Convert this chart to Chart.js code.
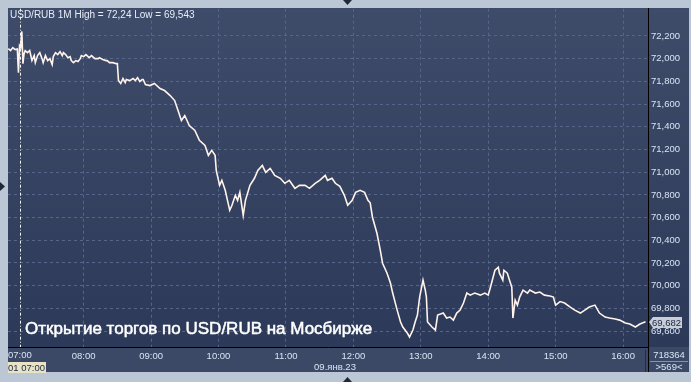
<!DOCTYPE html>
<html lang="ru">
<head>
<meta charset="UTF-8">
<title>USD/RUB 1M</title>
<style>
    * { margin: 0; padding: 0; box-sizing: border-box; }
    body { background: #bcc7d6; width: 691px; height: 382px; overflow: hidden; }
</style>
</head>
<body>
<canvas id="chart" width="691" height="382"></canvas>

<script src="https://cdn.jsdelivr.net/npm/chart.js"></script>
<script>
    // minutes after 07:00 (negative = before the open)
    const minutes = [
        -7, -5, -3, -1, 1, 2, 3, 4, 5, 6, 7, 8, 10, 12, 14, 16, 17, 19, 21, 23,
        24, 26, 28, 30, 32, 33, 35, 37, 39, 41, 42, 44, 46, 48, 49, 51, 53, 55, 57, 58,
        60, 62, 64, 65, 67, 70, 73, 74, 77, 80, 81, 83, 86, 89, 90, 91, 93, 95, 97, 98,
        101, 104, 106, 108, 110, 112, 113, 115, 119, 123, 128, 132, 137, 141, 144, 147, 150, 154, 159, 163,
        168, 171, 174, 177, 178, 181, 183, 186, 188, 190, 192, 195, 197, 199, 202, 204, 208, 212, 215, 219,
        222, 226, 230, 235, 239, 243, 248, 252, 257, 261, 266, 270, 275, 277, 281, 284, 288, 292, 295, 299,
        302, 306, 310, 313, 315, 317, 321, 324, 326, 330, 333, 335, 339, 342, 344, 348, 350, 353, 355, 357,
        359, 362, 364, 365, 366, 370, 373, 375, 380, 383, 386, 389, 392, 395, 398, 401, 404, 408, 413, 417,
        420, 422, 426, 429, 430, 433, 434, 437, 439, 441, 442, 444, 446, 448, 451, 455, 457, 462, 466, 470,
        475, 478, 480, 484, 488, 493, 497, 502, 506, 510, 515, 519, 524, 528, 533, 537, 542, 546, 551, 555,
        560
    ];
    const prices = [
        72.088, 72.071, 72.097, 72.080, 72.085, 71.877, 72.115, 72.100, 72.240, 71.956, 72.044, 72.071, 72.053, 72.071, 71.983, 72.027, 71.965, 72.027, 72.053, 72.000,
        71.965, 72.027, 71.983, 72.000, 71.948, 72.018, 72.053, 72.036, 72.062, 72.027, 72.053, 72.036, 72.009, 72.018, 71.983, 71.965, 71.983, 71.974, 72.000, 72.027,
        72.018, 72.036, 72.018, 72.009, 72.027, 72.000, 72.000, 72.009, 71.992, 71.983, 71.983, 71.965, 71.965, 71.956, 71.956, 71.807, 71.781, 71.825, 71.789, 71.816,
        71.807, 71.825, 71.807, 71.833, 71.798, 71.816, 71.816, 71.772, 71.763, 71.781, 71.737, 71.719, 71.675, 71.631, 71.543, 71.455, 71.499, 71.411, 71.367, 71.280,
        71.236, 71.148, 71.192, 71.148, 71.016, 70.884, 70.928, 70.840, 70.752, 70.664, 70.708, 70.796, 70.752, 70.822, 70.620, 70.752, 70.884, 70.946, 71.016, 71.060,
        70.998, 71.033, 70.972, 70.946, 70.902, 70.928, 70.858, 70.884, 70.884, 70.858, 70.902, 70.928, 70.972, 70.928, 70.946, 70.902, 70.875, 70.796, 70.708, 70.752,
        70.822, 70.840, 70.822, 70.752, 70.730, 70.603, 70.462, 70.312, 70.198, 70.110, 70.023, 69.935, 69.785, 69.680, 69.636, 69.583, 69.548, 69.609, 69.680, 69.741,
        69.900, 70.049, 69.961, 69.900, 69.680, 69.636, 69.609, 69.741, 69.759, 69.715, 69.724, 69.697, 69.759, 69.785, 69.847, 69.935, 69.917, 69.935, 69.917, 69.935,
        69.917, 69.987, 70.136, 70.162, 70.110, 70.049, 70.136, 70.110, 70.049, 69.987, 69.715, 69.873, 69.829, 69.900, 69.961, 69.935, 69.961, 69.935, 69.944, 69.917,
        69.909, 69.900, 69.829, 69.860, 69.847, 69.812, 69.785, 69.759, 69.785, 69.812, 69.829, 69.759, 69.724, 69.715, 69.706, 69.697, 69.671, 69.662, 69.636, 69.662,
        69.682
    ];
    const hourTicks = [0, 60, 120, 180, 240, 300, 360, 420, 480, 540];
    const hourLabels = ['07:00', '08:00', '09:00', '10:00', '11:00', '12:00', '13:00', '14:00', '15:00', '16:00'];
    const priceTicks = [69.6, 69.8, 70.0, 70.2, 70.4, 70.6, 70.8, 71.0, 71.2, 71.4, 71.6, 71.8, 72.0, 72.2];
    const lastPrice = 69.682;
    const openMarker = 3;
    const titleText = 'USD/RUB 1M High = 72,24 Low = 69,543';
    const captionText = 'Открытие торгов по USD/RUB на Мосбирже';
    const dateText = '09.янв.23';
    const cursorText = '01 07:00';
    const volumeText = '718364';
    const barsText = '>569<';

    const FONT = "'Liberation Sans', Arial, sans-serif";
    const labelColor = '#d9e4f4';
    const gridColor = '#56668a';
    const SMALL = '9.5px ' + FONT;

    const fmtPrice = v => v.toFixed(3).replace('.', ',');

    // background, frame and the extra labels around the chart
    const decor = {
        id: 'decor',
        beforeDraw(chart) {
            const ctx = chart.ctx;
            const a = chart.chartArea;
            ctx.save();
            ctx.fillStyle = '#bcc7d6';
            ctx.fillRect(0, 0, 691, 382);
            // axis panels
            ctx.fillStyle = '#3c4966';
            ctx.fillRect(8, 8, 681, 364);
            // plot + price panel gradient
            const g = ctx.createLinearGradient(0, a.top, 0, a.bottom);
            g.addColorStop(0, '#3e4c6a');
            g.addColorStop(1, '#2c3958');
            ctx.fillStyle = g;
            ctx.fillRect(8, a.top, 681, a.bottom - a.top);
            ctx.restore();
        },
        beforeDatasetsDraw(chart) {
            const ctx = chart.ctx;
            const a = chart.chartArea;
            const x = Math.round(chart.scales.x.getPixelForValue(openMarker)) + 0.5;
            ctx.save();
            ctx.strokeStyle = '#f4f4f4';
            ctx.lineWidth = 1;
            ctx.setLineDash([3, 2, 1, 2]);
            ctx.beginPath();
            ctx.moveTo(x, a.top);
            ctx.lineTo(x, a.bottom);
            ctx.stroke();
            ctx.restore();
        },
        afterDraw(chart) {
            const ctx = chart.ctx;
            const a = chart.chartArea;
            const ys = chart.scales.y;
            ctx.save();

            // title
            ctx.font = '10px ' + FONT;
            ctx.fillStyle = '#e6edf8';
            ctx.textBaseline = 'middle';
            ctx.textAlign = 'left';
            ctx.fillText(titleText, 10, 15);

            // caption
            ctx.font = '17px ' + FONT;
            ctx.fillStyle = '#ffffff';
            ctx.strokeStyle = '#ffffff';
            ctx.lineWidth = 0.5;
            ctx.textBaseline = 'alphabetic';
            ctx.fillText(captionText, 25, 334);
            ctx.strokeText(captionText, 25, 334);

            // first hour label, kept inside the frame
            ctx.font = SMALL;
            ctx.fillStyle = labelColor;
            ctx.textBaseline = 'middle';
            ctx.fillText(hourLabels[0], 8, 355);

            // cursor time box
            ctx.fillStyle = '#e8e3c4';
            ctx.fillRect(8, 362, 38, 11);
            ctx.fillStyle = '#1a2846';
            ctx.fillText(cursorText, 8, 368);

            // date
            ctx.fillStyle = labelColor;
            ctx.textAlign = 'center';
            ctx.fillText(dateText, 335, 367);

            // price panel extension and separators
            ctx.strokeStyle = '#000';
            ctx.lineWidth = 1;
            ctx.beginPath();
            ctx.moveTo(a.right + 0.5, a.bottom);
            ctx.lineTo(a.right + 0.5, 372);
            ctx.stroke();
            ctx.strokeStyle = '#222c42';
            ctx.beginPath();
            ctx.moveTo(645.5, 350);
            ctx.lineTo(645.5, 372);
            ctx.stroke();
            ctx.strokeStyle = '#8592aa';
            ctx.beginPath();
            ctx.moveTo(650, 361.5);
            ctx.lineTo(688, 361.5);
            ctx.stroke();

            ctx.fillStyle = labelColor;
            ctx.fillText(volumeText, 669, 355);
            ctx.fillText(barsText, 669, 367);

            // last price tag
            const py = Math.round(ys.getPixelForValue(lastPrice));
            ctx.fillStyle = '#c9ced8';
            ctx.beginPath();
            ctx.moveTo(649, py);
            ctx.lineTo(653, py - 5);
            ctx.lineTo(682, py - 5);
            ctx.lineTo(682, py + 6);
            ctx.lineTo(653, py + 6);
            ctx.closePath();
            ctx.fill();
            ctx.fillStyle = '#1a2240';
            ctx.textAlign = 'left';
            ctx.fillText(fmtPrice(lastPrice), 652, py + 1);

            // small navigation triangles
            ctx.fillStyle = '#1e2838';
            ctx.beginPath();
            ctx.moveTo(343, 0); ctx.lineTo(352, 0); ctx.lineTo(347.5, 5); ctx.closePath();
            ctx.fill();
            ctx.beginPath();
            ctx.moveTo(343, 382); ctx.lineTo(352, 382); ctx.lineTo(347.5, 377); ctx.closePath();
            ctx.fill();
            ctx.beginPath();
            ctx.moveTo(0, 182); ctx.lineTo(0, 191); ctx.lineTo(5, 186.5); ctx.closePath();
            ctx.fill();

            ctx.restore();
        }
    };

    new Chart(document.getElementById('chart'), {
        type: 'line',
        data: {
            datasets: [{
                data: minutes.map((m, i) => ({ x: m, y: prices[i] })),
                borderColor: '#fff3ec',
                borderWidth: 1.6,
                pointRadius: 0,
                tension: 0
            }]
        },
        options: {
            responsive: false,
            animation: false,
            layout: { padding: { left: 8, top: 8, right: 0, bottom: 10 } },
            plugins: {
                legend: { display: false },
                tooltip: { enabled: false }
            },
            scales: {
                x: {
                    type: 'linear',
                    min: -7.3,
                    max: 562.2,
                    afterBuildTicks: s => { s.ticks = hourTicks.map(v => ({ value: v })); },
                    afterFit: s => { s.height = 25; },
                    ticks: {
                        autoSkip: false,
                        maxRotation: 0,
                        padding: 4,
                        color: labelColor,
                        font: { family: FONT, size: 9.5 },
                        callback: (v, i) => i === 0 ? '' : hourLabels[i]
                    },
                    grid: {
                        color: c => c.index === 0 ? 'rgba(0,0,0,0)' : gridColor,
                        drawTicks: false
                    },
                    border: { display: true, color: '#000', width: 1, dash: [3, 3] }
                },
                y: {
                    position: 'right',
                    min: 69.46,
                    max: 72.44,
                    afterBuildTicks: s => { s.ticks = priceTicks.map(v => ({ value: v })); },
                    afterFit: s => { s.width = 43; },
                    ticks: {
                        padding: 3,
                        color: labelColor,
                        font: { family: FONT, size: 9.5 },
                        callback: v => fmtPrice(v)
                    },
                    grid: { color: gridColor, drawTicks: false },
                    border: { display: true, color: '#000', width: 1, dash: [3, 3] }
                }
            }
        },
        plugins: [decor]
    });
</script>
</body>
</html>
